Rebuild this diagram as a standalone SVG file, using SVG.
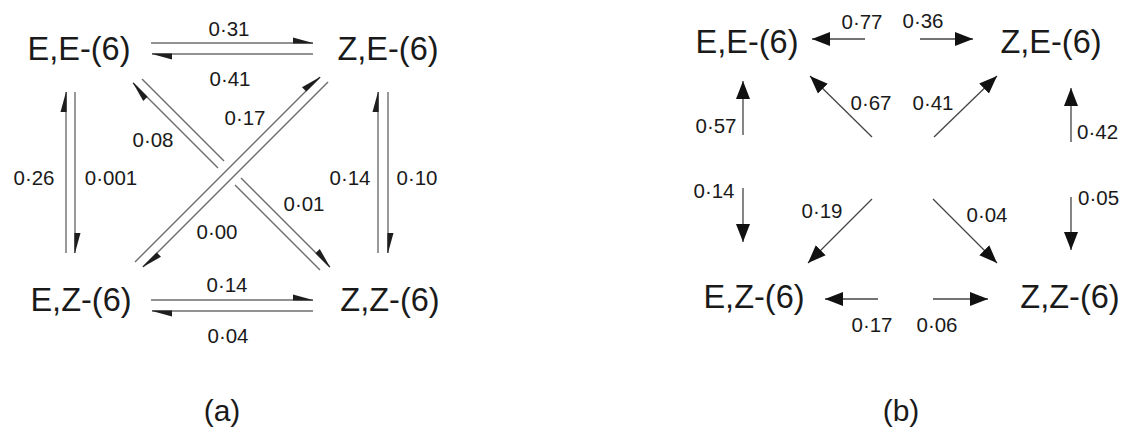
<svg xmlns="http://www.w3.org/2000/svg" width="1122" height="428" viewBox="0 0 1122 428">
<style>
.node{font-family:"Liberation Sans",Arial,sans-serif;font-size:32.5px;fill:#1a1a1a;text-anchor:middle}
.lbl{font-family:"Liberation Sans",Arial,sans-serif;font-size:20.5px;fill:#1a1a1a;text-anchor:middle}
.cap{font-family:"Liberation Sans",Arial,sans-serif;font-size:30px;fill:#1a1a1a;text-anchor:middle}
.ha{stroke:#6e6e6e;stroke-width:1.4;fill:none;marker-end:url(#harpoon)}
.ln{stroke:#6e6e6e;stroke-width:1.4;fill:none}
.hb{stroke:#444;stroke-width:1.3;fill:none;marker-end:url(#tri)}
</style>
<defs>
<marker id="harpoon" viewBox="-21 -7 22 8" refX="0" refY="0" markerWidth="22" markerHeight="8" markerUnits="userSpaceOnUse" orient="auto">
<path d="M0,0 L-20,-5.5 L-20,0.6 L0,0.6 Z" fill="#1e1e1e"/>
</marker>
<marker id="tri" viewBox="-18 -7.5 19 15" refX="0" refY="0" markerWidth="19" markerHeight="15" markerUnits="userSpaceOnUse" orient="auto">
<path d="M0,0 L-18,-7 L-18,7 Z" fill="#111"/>
</marker>
</defs>
<g id="connectors">
<g id="connectors-a">
<path class="ha" d="M151,43 H313"/>
<path class="ha" d="M313,54 H152"/>
<path class="ha" d="M151,300 H313"/>
<path class="ha" d="M313,311 H152"/>
<path class="ha" d="M66,253 V92"/>
<path class="ha" d="M75,92 V253"/>
<path class="ha" d="M378,253 V92"/>
<path class="ha" d="M388,92 V253"/>
<path class="ha" d="M135,262 L320,77"/>
<path class="ha" d="M328,82 L143,267"/>
<path class="ha" d="M218,168 L133,83"/>
<path class="ln" d="M235,185 L320,270"/>
<path class="ln" d="M142,79 L224,161"/>
<path class="ha" d="M241,178 L330,267"/>
</g>
<g id="connectors-b">
<path class="hb" d="M865,39 H812"/>
<path class="hb" d="M920,39 H973"/>
<path class="hb" d="M872,137 L810,76"/>
<path class="hb" d="M934,137 L997,76"/>
<path class="hb" d="M743,135 V81"/>
<path class="hb" d="M1071,142 V88"/>
<path class="hb" d="M743,188 V242"/>
<path class="hb" d="M1071,197 V250"/>
<path class="hb" d="M872,199 L808,263"/>
<path class="hb" d="M933,199 L997,263"/>
<path class="hb" d="M878,299 H825"/>
<path class="hb" d="M933,299 H988"/>
</g>
</g>
<g id="labels-a">
<text class="lbl" x="229" y="36">0·31</text>
<text class="lbl" x="230" y="86">0·41</text>
<text class="lbl" x="34" y="185">0·26</text>
<text class="lbl" x="111" y="185">0·001</text>
<text class="lbl" x="350" y="185">0·14</text>
<text class="lbl" x="417" y="185">0·10</text>
<text class="lbl" x="153" y="147">0·08</text>
<text class="lbl" x="245" y="125">0·17</text>
<text class="lbl" x="304" y="211">0·01</text>
<text class="lbl" x="217" y="239">0·00</text>
<text class="lbl" x="227" y="292">0·14</text>
<text class="lbl" x="228" y="343">0·04</text>
<text class="cap" x="222" y="421">(a)</text>
</g>
<g id="labels-b">
<text class="lbl" x="862" y="29">0·77</text>
<text class="lbl" x="923" y="28">0·36</text>
<text class="lbl" x="871" y="110">0·67</text>
<text class="lbl" x="933" y="110">0·41</text>
<text class="lbl" x="716" y="133">0·57</text>
<text class="lbl" x="1077" y="139" style="text-anchor:start">0·42</text>
<text class="lbl" x="714" y="198">0·14</text>
<text class="lbl" x="1078" y="205" style="text-anchor:start">0·05</text>
<text class="lbl" x="822" y="218">0·19</text>
<text class="lbl" x="987" y="222">0·04</text>
<text class="lbl" x="872" y="332">0·17</text>
<text class="lbl" x="937" y="332">0·06</text>
<text class="cap" x="901" y="421">(b)</text>
</g>
<g id="node-a-EE"><text class="node" x="79" y="60">E,E-(6)</text></g>
<g id="node-a-ZE"><text class="node" x="388" y="60">Z,E-(6)</text></g>
<g id="node-a-EZ"><text class="node" x="81" y="311">E,Z-(6)</text></g>
<g id="node-a-ZZ"><text class="node" x="390" y="311">Z,Z-(6)</text></g>
<g id="node-b-EE"><text class="node" x="747" y="53">E,E-(6)</text></g>
<g id="node-b-ZE"><text class="node" x="1051" y="53">Z,E-(6)</text></g>
<g id="node-b-EZ"><text class="node" x="754" y="308">E,Z-(6)</text></g>
<g id="node-b-ZZ"><text class="node" x="1070" y="308">Z,Z-(6)</text></g>
</svg>
